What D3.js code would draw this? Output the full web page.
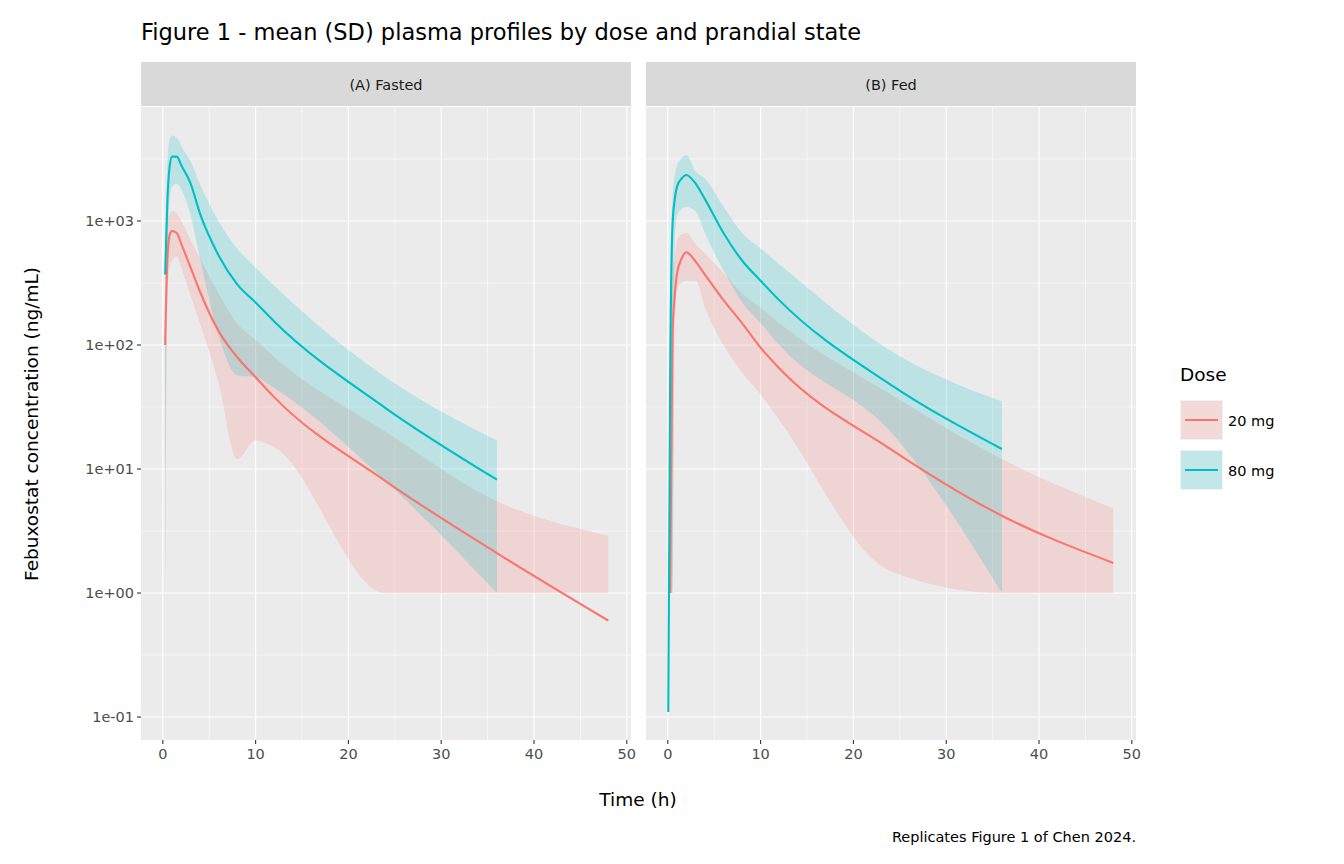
<!DOCTYPE html>
<html><head><meta charset="utf-8">
<script src="https://cdn.jsdelivr.net/npm/d3@7"></script>
<style>body{margin:0;background:#fff}text{font-family:"DejaVu Sans",sans-serif}</style>
</head><body><svg id="c" width="1344" height="864"></svg>
<script>
const panels = ["(A) Fasted", "(B) Fed"];
const doses = ["20 mg", "80 mg"];
const colors = ["#F8766D", "#00BFC4"];
const yTicks = [0.1, 1, 10, 100, 1000];
const yTickLabels = ["1e-01", "1e+00", "1e+01", "1e+02", "1e+03"];
const xTicks = [0, 10, 20, 30, 40, 50];

// Fasted
const tA20 = [0.25,0.5,0.75,1,1.5,2,3,4,6,8,10,12,24,36,48];
const mA20 = [100,500,780,830,800,650,420,270,130,80,55,38,8,2.1,0.6];
const loA20 = [1,250,420,480,520,420,250,150,50,12,17,15,1,1,1];
const hiA20 = [200,900,1150,1200,1150,1000,700,500,260,150,110,80,20,5.5,2.9];
const tA80 = [0.25,0.5,0.75,1,1.5,2,3,4,6,8,10,12,24,36];
const mA80 = [370,1500,2800,3300,3300,2800,2000,1150,530,310,220,155,31,8.2];
const loA80 = [1,600,1500,1900,2000,1800,1100,500,120,57,55,45,8,1];
const hiA80 = [700,3000,4600,4900,4700,4000,3000,2000,1000,600,420,300,55,17];
// Fed
const tB20 = [0.25,0.5,0.75,1,1.5,2,3,4,6,8,10,12,24,36,48];
const mB20 = [1,120,250,380,500,560,470,370,230,150,95,65,14.5,4.2,1.75];
const loB20 = [1,1,120,280,320,330,330,200,100,60,40,25,1.5,1,1];
const hiB20 = [2,300,500,700,780,800,650,550,380,260,200,150,40,12,4.8];
const tB80 = [0.05,0.25,0.5,0.75,1,1.5,2,3,4,6,8,10,12,24,36];
const mB80 = [0.11,50,900,1500,1900,2200,2350,2000,1500,800,480,330,230,48,14.5];
const loB80 = [0.11,1,1,700,1100,1250,1300,1200,800,400,220,150,100,20,1];
const hiB80 = [0.11,200,1500,2300,2800,3200,3400,2500,2200,1300,800,600,450,90,35];

const data = [
  [{t:tA20,m:mA20,lo:loA20,hi:hiA20},{t:tA80,m:mA80,lo:loA80,hi:hiA80}],
  [{t:tB20,m:mB20,lo:loB20,hi:hiB20},{t:tB80,m:mB80,lo:loB80,hi:hiB80}]
];

const svg = d3.select("#c");
const pTop = 107, pBottom = 740, stripTop = 62;
const panelX = [[141,631],[646,1136]];
const y = d3.scaleLog().domain([Math.pow(10,-1.185), Math.pow(10,3.919)]).range([pBottom, pTop]);

svg.append("text").attr("x",141).attr("y",40).attr("font-size",22.5).attr("fill","#000")
  .text("Figure 1 - mean (SD) plasma profiles by dose and prandial state");

panels.forEach((p, i) => {
  const [x0, x1] = panelX[i];
  const x = d3.scaleLinear().domain([-2.35, 50.45]).range([x0, x1]);
  const g = svg.append("g");
  g.append("rect").attr("x",x0).attr("y",pTop).attr("width",x1-x0).attr("height",pBottom-pTop).attr("fill","#EBEBEB");
  [-0.5,0.5,1.5,2.5,3.5].forEach(e => g.append("line").attr("x1",x0).attr("x2",x1)
    .attr("y1",y(Math.pow(10,e))).attr("y2",y(Math.pow(10,e))).attr("stroke","#fff").attr("stroke-width",0.55));
  [5,15,25,35,45].forEach(v => g.append("line").attr("x1",x(v)).attr("x2",x(v))
    .attr("y1",pTop).attr("y2",pBottom).attr("stroke","#fff").attr("stroke-width",0.55));
  yTicks.forEach(v => g.append("line").attr("x1",x0).attr("x2",x1).attr("y1",y(v)).attr("y2",y(v)).attr("stroke","#fff").attr("stroke-width",1.1));
  xTicks.forEach(v => g.append("line").attr("x1",x(v)).attr("x2",x(v)).attr("y1",pTop).attr("y2",pBottom).attr("stroke","#fff").attr("stroke-width",1.1));
  g.append("rect").attr("x",x0).attr("y",stripTop).attr("width",x1-x0).attr("height",pTop-stripTop-1).attr("fill","#D9D9D9");
  g.append("text").attr("x",(x0+x1)/2).attr("y",(stripTop+pTop)/2+5).attr("text-anchor","middle").attr("font-size",14.5).attr("fill","#1A1A1A").text(p);
  data[i].forEach((s, k) => {
    const pts = s.t.map((t,j)=>({t, m:s.m[j], lo:s.lo[j], hi:s.hi[j]}));
    g.append("path").datum(pts).attr("fill",colors[k]).attr("fill-opacity",0.2)
      .attr("d", d3.area().x(d=>x(d.t)).y0(d=>y(d.lo)).y1(d=>y(d.hi)).curve(d3.curveMonotoneX));
  });
  data[i].forEach((s, k) => {
    const pts = s.t.map((t,j)=>({t, m:s.m[j]}));
    g.append("path").datum(pts).attr("fill","none").attr("stroke",colors[k]).attr("stroke-width",2.1)
      .attr("d", d3.line().x(d=>x(d.t)).y(d=>y(d.m)).curve(d3.curveMonotoneX));
  });
  xTicks.forEach(v => {
    g.append("line").attr("x1",x(v)).attr("x2",x(v)).attr("y1",pBottom).attr("y2",pBottom+4).attr("stroke","#333").attr("stroke-width",1.1);
    g.append("text").attr("x",x(v)).attr("y",pBottom+19).attr("text-anchor","middle").attr("font-size",14.5).attr("fill","#4D4D4D").text(v);
  });
  if (i === 0) {
    yTicks.forEach((v,j) => {
      g.append("line").attr("x1",x0-4).attr("x2",x0).attr("y1",y(v)).attr("y2",y(v)).attr("stroke","#333").attr("stroke-width",1.1);
      g.append("text").attr("x",x0-7).attr("y",y(v)+5).attr("text-anchor","end").attr("font-size",14.5).attr("fill","#4D4D4D").text(yTickLabels[j]);
    });
  }
});

svg.append("text").attr("x",638).attr("y",806).attr("text-anchor","middle").attr("font-size",18.5).text("Time (h)");
svg.append("text").attr("transform","translate(38,424) rotate(-90)").attr("text-anchor","middle").attr("font-size",18.5).text("Febuxostat concentration (ng/mL)");
svg.append("text").attr("x",1136).attr("y",842).attr("text-anchor","end").attr("font-size",14.5).text("Replicates Figure 1 of Chen 2024.");

svg.append("text").attr("x",1180).attr("y",381).attr("font-size",18.5).text("Dose");
doses.forEach((d,k) => {
  const yy = 400 + k*50;
  svg.append("rect").attr("x",1180).attr("y",yy).attr("width",43).attr("height",40).attr("fill","#F2F2F2");
  svg.append("rect").attr("x",1181).attr("y",yy+1).attr("width",41).attr("height",38).attr("fill",colors[k]).attr("fill-opacity",0.2);
  svg.append("line").attr("x1",1185).attr("x2",1218).attr("y1",yy+20).attr("y2",yy+20).attr("stroke",colors[k]).attr("stroke-width",2.1);
  svg.append("text").attr("x",1228).attr("y",yy+26).attr("font-size",14.5).text(d);
});
</script></body></html>
